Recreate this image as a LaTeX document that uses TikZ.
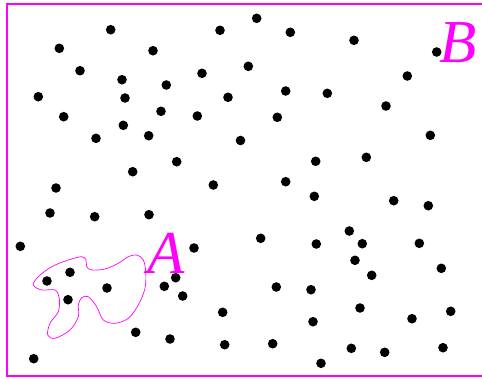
\documentclass[tikz,border=0pt]{standalone}
\usepackage{fontspec}
\setmainfont{Liberation Serif}
\usepackage{tikz}
\usetikzlibrary{calc}

\definecolor{setmagenta}{RGB}{255,0,255}
\tikzset{
    frame/.style={draw=setmagenta, line width=2.2pt},
    region/.style={draw=setmagenta, line width=0.7pt},
    setlabel/.style={text=setmagenta, inner sep=0pt, font=\fontsize{61}{61}\selectfont\itshape},
    pt/.style={fill=black}
}

\begin{document}
\begin{tikzpicture}[x=1pt, y=-1pt]
    \useasboundingbox (0,0) rectangle (482,378);

    % the big set B
    \draw[frame] (6.7,4.3) rectangle (486,375.7);
    \node[setlabel, anchor=base west] (labelB) at (439,62) {B};

    % the points
    \foreach \x/\y in {110.7/29.7, 220/30.3, 59.3/48.3, 153/50.7, 80/70.7, 202/73.3,
        122/79.7, 166.3/85, 38.3/96.7, 125/98, 228/97.3, 63.7/116.7, 161/111.3,
        197.3/116, 123.3/125.3, 96/138.3, 148.7/135.7, 240.5/140.5, 176.7/161.7,
        132.7/171.7, 56/188, 213.3/185,
        256.7/18.3, 290.3/32.3, 354/40.3, 436.7/52, 248.3/66.3, 407.3/76, 285.7/91,
        327.3/93.3, 386/106, 277.3/117.3, 430.3/135.3, 315.7/161.3, 366.3/157.3,
        285.7/181.7,
        50/213, 94.7/216.7, 149/214.7, 20.3/246.3, 194/248, 70/272.3, 47/281,
        107/288, 175.7/277.7, 164.3/286.3, 182.7/296, 68/299.7, 222.7/312.3,
        135.7/332.3, 170/339, 224.7/344.7, 33.7/358.7,
        314.3/196.3, 393.7/200.7, 428.3/205.7, 349.3/231, 260.7/238.3, 316.3/244,
        362.3/243.7, 419.3/243.3, 355/260.3, 371.7/275.3, 441.3/268.3, 276.3/287,
        311/289.7, 360/308, 450.7/311.3, 412/318.7, 313/321.7, 272.7/343.7,
        351.3/348.3, 384.7/352.3, 443/347.7, 321/363.3}
        \fill[pt] (\x,\y) circle (4.8);

    % the subset A
    \draw[region] plot[smooth cycle, tension=0.55] coordinates {
        (33.3,285) (38.3,276.7) (51.7,266.7) (68.3,260) (81.7,256.7) (86,260)
        (86.7,266.7) (91.7,270) (105,269) (118.3,263.3) (128.3,256.7) (136.7,255)
        (143.3,260) (145.7,271.7) (145,288.3) (138.3,305) (128.3,318.3) (115,323.3)
        (103.3,320) (96.7,306.7) (88.3,296.7) (81.7,297.7) (78.3,305) (78.3,316.7)
        (70,330) (55,338.3) (47.7,335) (50,323.3) (58.3,311.7) (59.3,298.3)
        (55,290) (41.7,290)};
    \node[setlabel, anchor=base west] (labelA) at (147,273) {A};
\end{tikzpicture}
\end{document}
